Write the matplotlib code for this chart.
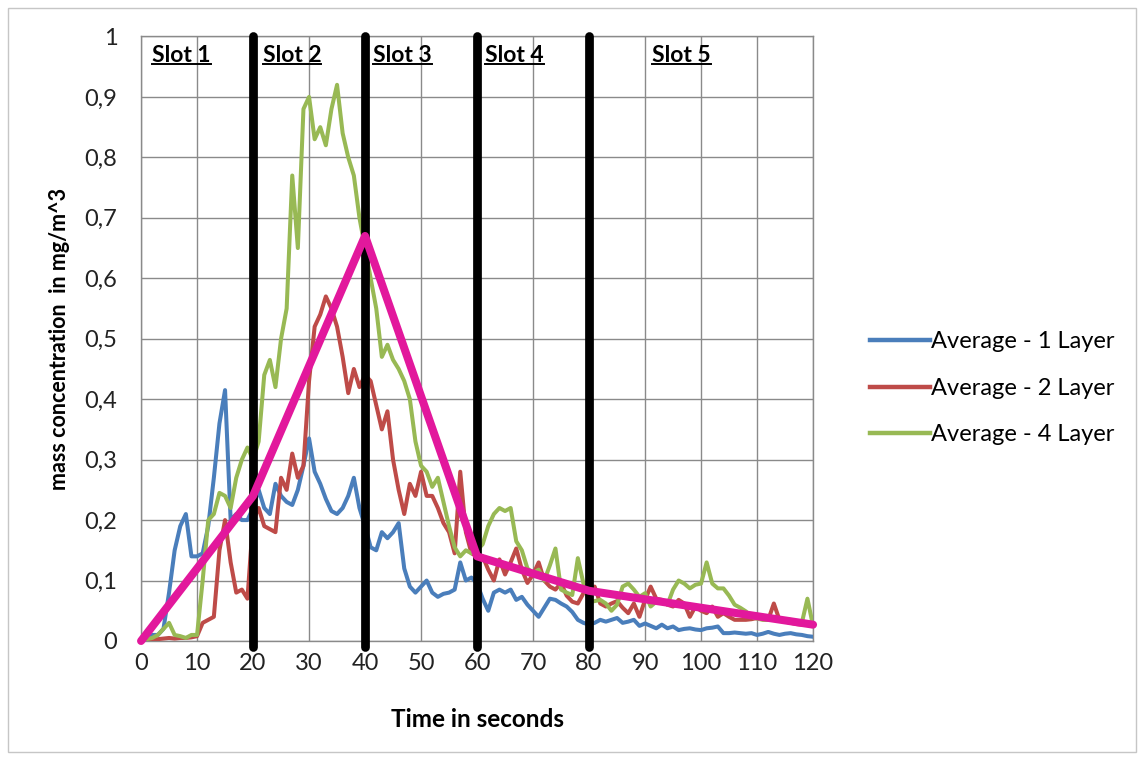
import matplotlib
matplotlib.use("Agg")
import matplotlib.pyplot as plt
from matplotlib.lines import Line2D
from matplotlib.patches import Rectangle

plt.rcParams['font.family'] = ['Lato', 'DejaVu Sans']

# one reading per second, 0..120 s
time_s = list(range(121))

avg_1_layer = [
    0.0, 0.005, 0.01, 0.01, 0.02, 0.08, 0.15, 0.19, 0.21, 0.14,
    0.14, 0.145, 0.19, 0.27, 0.36, 0.415, 0.2, 0.21, 0.2, 0.2,
    0.22, 0.25, 0.22, 0.21, 0.26, 0.24, 0.23, 0.225, 0.25, 0.29,
    0.335, 0.28, 0.26, 0.235, 0.215, 0.21, 0.22, 0.24, 0.27, 0.22,
    0.19, 0.155, 0.15, 0.18, 0.17, 0.18, 0.195, 0.12, 0.09, 0.08,
    0.09, 0.1, 0.08, 0.073, 0.078, 0.08, 0.085, 0.13, 0.1, 0.105,
    0.095, 0.07, 0.05, 0.08, 0.085, 0.08, 0.085, 0.068, 0.073, 0.06,
    0.05, 0.04, 0.055, 0.07, 0.068, 0.062, 0.057, 0.048, 0.035, 0.03,
    0.027, 0.03, 0.035, 0.032, 0.035, 0.038, 0.03, 0.032, 0.035, 0.025,
    0.029, 0.025, 0.021, 0.027, 0.021, 0.024, 0.018, 0.02, 0.021, 0.019,
    0.018, 0.021, 0.022, 0.024, 0.013, 0.013, 0.014, 0.013, 0.012, 0.013,
    0.01, 0.012, 0.015, 0.012, 0.01, 0.012, 0.013, 0.011, 0.01, 0.008,
    0.007,
]

avg_2_layer = [
    0.0, 0.002, 0.003, 0.003, 0.004, 0.005, 0.004, 0.005, 0.005, 0.006,
    0.008, 0.03, 0.035, 0.04, 0.15, 0.2, 0.13, 0.08, 0.085, 0.07,
    0.2, 0.22, 0.19, 0.185, 0.18, 0.27, 0.25, 0.31, 0.27, 0.29,
    0.43, 0.52, 0.54, 0.57, 0.55, 0.52, 0.47, 0.41, 0.45, 0.42,
    0.44, 0.43, 0.39, 0.35, 0.38, 0.3, 0.25, 0.21, 0.26, 0.24,
    0.28, 0.24, 0.24, 0.22, 0.195, 0.18, 0.145, 0.28, 0.18, 0.145,
    0.14, 0.14, 0.118, 0.1, 0.135, 0.11, 0.13, 0.153, 0.118, 0.096,
    0.11, 0.13, 0.1, 0.09, 0.085, 0.096, 0.075, 0.065, 0.062, 0.079,
    0.085, 0.09, 0.062, 0.057, 0.062, 0.066, 0.055, 0.046, 0.062, 0.04,
    0.068, 0.09, 0.07, 0.068, 0.06, 0.057, 0.068, 0.062, 0.04, 0.057,
    0.05, 0.046, 0.057, 0.04, 0.046, 0.04, 0.035, 0.035, 0.035, 0.036,
    0.038, 0.036, 0.035, 0.062, 0.035, 0.032, 0.03, 0.028, 0.027, 0.027,
    0.027,
]

avg_4_layer = [
    0.0, 0.003, 0.005, 0.01, 0.02, 0.03, 0.01, 0.008, 0.005, 0.01,
    0.01, 0.1, 0.2, 0.21, 0.245, 0.24, 0.22, 0.27, 0.3, 0.32,
    0.3, 0.33, 0.44, 0.465, 0.42, 0.5, 0.55, 0.77, 0.65, 0.88,
    0.9, 0.83, 0.85, 0.82, 0.88, 0.92, 0.84, 0.8, 0.77, 0.7,
    0.65, 0.6, 0.55, 0.47, 0.49, 0.465, 0.45, 0.43, 0.4, 0.33,
    0.29, 0.28, 0.255, 0.27, 0.23, 0.19, 0.155, 0.14, 0.15, 0.145,
    0.15, 0.16, 0.19, 0.21, 0.22, 0.215, 0.22, 0.165, 0.15, 0.12,
    0.112, 0.118, 0.1, 0.125, 0.153, 0.085, 0.08, 0.076, 0.137, 0.095,
    0.065, 0.066, 0.068, 0.062, 0.05, 0.06, 0.09, 0.095, 0.085, 0.073,
    0.079, 0.057, 0.065, 0.068, 0.06, 0.085, 0.1, 0.095, 0.087, 0.093,
    0.095, 0.13, 0.095, 0.087, 0.087, 0.075, 0.06, 0.055, 0.049, 0.04,
    0.037, 0.035, 0.035, 0.036, 0.037, 0.036, 0.035, 0.032, 0.03, 0.07,
    0.025,
]

# piecewise trend drawn across the slots
trend_t = [0, 20, 40, 60, 80, 120]
trend_v = [0.0, 0.24, 0.67, 0.14, 0.083, 0.027]

slot_edges = [20, 40, 60, 80]
slot_names = ['Slot 1', 'Slot 2', 'Slot 3', 'Slot 4', 'Slot 5']
slot_label_x = [2.0, 21.7, 41.5, 61.5, 91.3]

series_names = ['Average - 1 Layer', 'Average - 2 Layer', 'Average - 4 Layer']
series_colors = ['#4A7EBB', '#BE4B48', '#98B954']

fig = plt.figure(figsize=(11.44, 7.6), dpi=100)
fig.patch.set_facecolor('white')
fig.add_artist(Rectangle((0.007, 0.01), 0.986, 0.98, transform=fig.transFigure,
                         fill=False, edgecolor='#c6c6c6', linewidth=1))

ax = fig.add_axes([0.1233, 0.1566, 0.5874, 0.7954])

for vals, name, col in zip([avg_1_layer, avg_2_layer, avg_4_layer], series_names, series_colors):
    ax.plot(time_s, vals, color=col, linewidth=2.9, label=name, zorder=3,
            solid_joinstyle='round')

for x in slot_edges:
    ax.plot([x, x], [-0.01, 1.0], color='black', linewidth=6.3,
            solid_capstyle='round', clip_on=False, zorder=4)

ax.plot(trend_t, trend_v, color='#E2189C', linewidth=5.8, zorder=5,
        solid_capstyle='round', solid_joinstyle='round', clip_on=False)

ax.set_xlim(0, 120)
ax.set_ylim(0, 1)
ax.set_xticks(range(0, 121, 10))
ax.set_yticks([i / 10 for i in range(11)])
ax.set_yticklabels(['0' if i == 0 else ('1' if i == 10 else '0,%d' % i) for i in range(11)])
ax.grid(True, color='#8a8a8a', linewidth=1)
ax.set_axisbelow(True)
for sp in ax.spines.values():
    sp.set_color('#8a8a8a')
    sp.set_linewidth(1)
ax.tick_params(axis='both', length=0, labelsize=17, colors='#222222')
ax.tick_params(axis='y', pad=17)
ax.tick_params(axis='x', pad=9)

ax.set_xlabel('Time in seconds', fontsize=17.5, fontweight='bold', labelpad=24)
ax.set_ylabel('mass concentration  in mg/m^3', fontsize=15.5, fontweight='bold')
ax.yaxis.set_label_coords(-0.106, 0.5)

slot_texts = []
for name, x in zip(slot_names, slot_label_x):
    t = ax.text(x, 0.968, name, fontsize=16.5, fontweight='bold', ha='left', va='center', zorder=6)
    slot_texts.append(t)

leg = fig.legend(loc='center left', bbox_to_anchor=(0.7605, 0.489), frameon=False,
                 fontsize=17, handlelength=2.55, handletextpad=0.05, labelspacing=1.08,
                 borderpad=0, borderaxespad=0)
for h in leg.legend_handles:
    h.set_linewidth(3.2)

# underline the slot captions
fig.canvas.draw()
r = fig.canvas.get_renderer()
inv = fig.transFigure.inverted()
for t in slot_texts:
    bb = t.get_window_extent(r)
    (x0, y0), (x1, _) = inv.transform([(bb.x0, bb.y0 + 2), (bb.x1, bb.y0)])
    fig.add_artist(Line2D([x0, x1], [y0, y0], transform=fig.transFigure,
                          color='black', linewidth=1.4))

fig.savefig('out.png', dpi=100)
